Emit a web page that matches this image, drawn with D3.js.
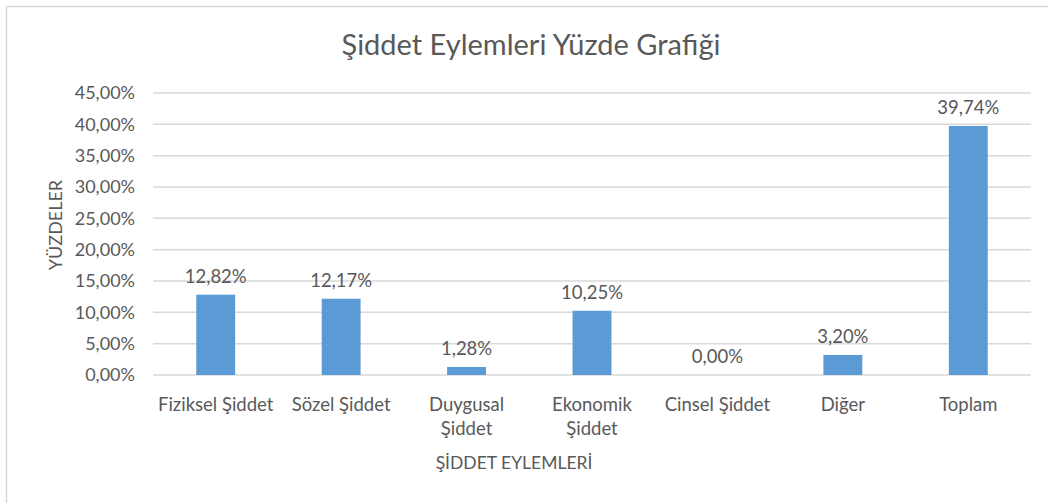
<!DOCTYPE html>
<meta charset="utf-8">
<script src="https://d3js.org/d3.v7.min.js"></script>
<style>
  body { margin: 0; background: #fff; overflow: hidden; }
  text { font-family: Lato, "Open Sans", sans-serif; fill: #595959; }
</style>
<div id="chart"></div>
<script>
  // chart data
  var categories = ["Fiziksel Şiddet", "Sözel Şiddet", "Duygusal Şiddet", "Ekonomik Şiddet", "Cinsel Şiddet", "Diğer", "Toplam"];
  var values = [12.82, 12.17, 1.28, 10.25, 0.00, 3.20, 39.74];
  var yTicks = [0, 5, 10, 15, 20, 25, 30, 35, 40, 45];
  // labels that wrap onto two lines in the original
  var wrapped = { "Duygusal Şiddet": ["Duygusal", "Şiddet"], "Ekonomik Şiddet": ["Ekonomik", "Şiddet"] };

  var W = 1048, H = 503;
  var margin = { top: 93, right: 17, bottom: 128, left: 153 },
    width = W - margin.left - margin.right,
    height = H - margin.top - margin.bottom;

  var svg = d3.select("#chart")
    .append("svg")
    .attr("width", W)
    .attr("height", H);

  // chart border (only top and left edges fall inside the picture)
  svg.append("rect")
    .attr("x", 6.5).attr("y", 6.5)
    .attr("width", W + 20).attr("height", H + 20)
    .attr("fill", "none")
    .attr("stroke", "#d9d9d9")
    .attr("stroke-width", 1.5);

  var g = svg.append("g")
    .attr("transform", "translate(" + margin.left + "," + margin.top + ")");

  var x = d3.scaleBand().domain(categories).range([0, width]).padding(0);
  var y = d3.scaleLinear().domain([0, 45]).range([height, 0]);

  function fmt(v) { return v.toFixed(2).replace(".", ",") + "%"; }

  // gridlines
  g.selectAll(".grid")
    .data(yTicks)
    .enter()
    .append("line")
    .attr("x1", 0).attr("x2", width)
    .attr("y1", function (d) { return y(d); })
    .attr("y2", function (d) { return y(d); })
    .attr("stroke", "#d9d9d9")
    .attr("stroke-width", 1.5);

  // y axis labels
  var yAxis = g.append("g")
    .call(d3.axisLeft(y).tickValues(yTicks).tickSize(0).tickPadding(18).tickFormat(fmt));
  yAxis.select(".domain").remove();
  yAxis.selectAll("text")
    .style("font-size", "18px")
    .attr("fill", "#595959")
    .style("font-family", "Lato, sans-serif");

  // bars
  var barW = x.bandwidth() * 0.31;
  g.selectAll(".bar")
    .data(values)
    .enter()
    .append("rect")
    .attr("x", function (d, i) { return x(categories[i]) + (x.bandwidth() - barW) / 2; })
    .attr("y", function (d) { return y(d); })
    .attr("width", barW)
    .attr("height", function (d) { return height - y(d); })
    .attr("fill", "#5b9bd5");

  // data labels
  g.selectAll(".lbl")
    .data(values)
    .enter()
    .append("text")
    .attr("x", function (d, i) { return x(categories[i]) + x.bandwidth() / 2; })
    .attr("y", function (d) { return y(d) - 12; })
    .attr("text-anchor", "middle")
    .style("font-size", "18.5px")
    .text(function (d) { return fmt(d); });

  // x axis category labels
  var xl = g.selectAll(".xl")
    .data(categories)
    .enter()
    .append("text")
    .attr("x", function (d) { return x(d) + x.bandwidth() / 2; })
    .attr("y", height + 36)
    .attr("text-anchor", "middle")
    .style("font-size", "18.5px");
  xl.each(function (d) {
    var lines = wrapped[d] || [d];
    var t = d3.select(this);
    lines.forEach(function (s, i) {
      t.append("tspan")
        .attr("x", x(d) + x.bandwidth() / 2)
        .attr("dy", i === 0 ? 0 : 24)
        .text(s);
    });
  });

  // title
  svg.append("text")
    .attr("x", 531)
    .attr("y", 55)
    .attr("text-anchor", "middle")
    .style("font-size", "29px")
    .text("Şiddet Eylemleri Yüzde Grafiği");

  // axis titles
  svg.append("text")
    .attr("x", 514)
    .attr("y", 469)
    .attr("text-anchor", "middle")
    .style("font-size", "17.5px")
    .text("ŞİDDET EYLEMLERİ");

  svg.append("text")
    .attr("transform", "translate(62,225) rotate(-90)")
    .attr("text-anchor", "middle")
    .style("font-size", "18px")
    .text("YÜZDELER");
</script>
